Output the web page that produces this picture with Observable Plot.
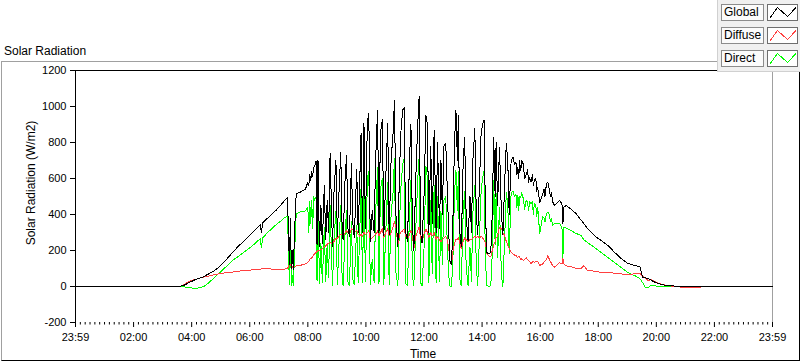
<!DOCTYPE html>
<html>
<head>
<meta charset="utf-8">
<script src="https://cdn.jsdelivr.net/npm/d3@7"></script>
<script src="https://cdn.jsdelivr.net/npm/@observablehq/plot@0.6"></script>
<style>
  html, body { margin: 0; padding: 0; background: #fff; }
  #wrap { position: relative; width: 800px; height: 361px; overflow: hidden;
          font-family: "Liberation Sans", Arial, sans-serif; color: #000; }
  #frame { position: absolute; left: 1px; top: 61px; width: 799px; height: 300px; box-sizing: border-box;
           border-left: 1px solid #a0a0a0; border-top: 1px solid #a0a0a0;
           border-right: 1px solid #000; border-bottom: 1px solid #000; }
  #title { position: absolute; left: 4px; top: 44px; font-size: 12px; line-height: 14px; white-space: nowrap; }
  #ylabel { position: absolute; left: 31px; top: 183px; font-size: 12px; line-height: 14px; white-space: nowrap;
            transform: translate(-50%, -50%) rotate(-90deg); }
  #xlabel { position: absolute; left: 423px; top: 347px; font-size: 12px; line-height: 14px; white-space: nowrap;
            transform: translateX(-50%); }
  #chart { position: absolute; left: 0; top: 0; }
  #legend { position: absolute; left: 717px; top: 0; width: 83px; height: 72px; box-sizing: border-box;
            background: #f0f0f0; border-left: 1px solid #d0d0d0; border-bottom: 1px solid #d0d0d0; z-index: 5; }
  .lname { position: absolute; left: 3px; width: 43px; height: 17px; box-sizing: border-box;
           border: 1px solid #8c8c8c; background: #fbfbfb; font-size: 12px; line-height: 15px; padding-left: 2px; }
  .licon { position: absolute; left: 49px; width: 31px; height: 17px; box-sizing: border-box;
           border: 1px solid #6e6e6e; background: #fff; }
  .licon svg { position: absolute; left: 0; top: 0; }
</style>
</head>
<body>
<div id="wrap">
  <div id="frame"></div>
  <div id="title">Solar Radiation</div>
  <div id="chart"></div>
  <div id="ylabel">Solar Radiation (W/m2)</div>
  <div id="xlabel">Time</div>
  <div id="legend"></div>
</div>
<script>
// ---- data ----
const time = [
  // night / morning
  "00:00","03:35","03:45","03:55","04:05","04:15","04:25","04:35","04:45","04:55","05:05","05:15","05:25","05:35","05:45","05:55","06:05","06:15","06:22","06:24","06:27","06:35","06:45","06:55","07:05","07:12","07:18",
  // first clouds
  "07:20","07:22","07:24","07:26","07:28","07:30","07:33","07:36","07:45","07:55","08:00","08:02","08:04","08:06","08:08","08:10","08:12",
  // 08:14 - 09:47
  "08:14","08:17","08:19","08:21","08:24","08:27","08:30","08:34","08:37","08:40","08:43","08:46","08:49","08:51","08:54","08:58","09:01","09:04","09:08","09:11","09:13","09:17","09:20","09:23","09:26","09:30","09:33","09:36","09:41","09:44","09:47",
  // 09:50 - 12:32
  "09:50","09:53","09:56","09:59","10:03","10:06","10:09","10:13","10:17","10:20","10:24","10:27","10:30","10:34","10:37","10:41","10:45","10:48","10:52","10:56","10:59","11:02","11:06","11:09","11:12","11:16","11:19","11:22","11:26","11:30","11:33","11:36","11:39","11:43","11:47","11:50","11:53","11:56","12:00","12:04","12:07","12:10","12:14","12:17","12:21","12:25","12:28","12:32",
  // 12:35 - 15:07
  "12:35","12:38","12:41","12:45","12:48","12:51","12:54","12:57","13:00","13:03","13:06","13:09","13:11","13:14","13:17","13:21","13:24","13:27","13:31","13:35","13:38","13:41","13:45","13:48","13:51","13:55","13:58","14:01","14:04","14:07","14:10","14:14","14:18","14:21","14:24","14:27","14:29","14:32","14:36","14:40","14:43","14:47","14:50","14:53","14:56","15:00","15:04","15:07",
  // afternoon / evening
  "15:10","15:12","15:14","15:16","15:17","15:20","15:22","15:25","15:28","15:31","15:34","15:36","15:38","15:41","15:44","15:46","15:48","15:51","15:53","15:55","15:59","16:05","16:08","16:10","16:13","16:16","16:19","16:21","16:23","16:26","16:29","16:40",
  "16:45","16:47","16:49","16:54","17:04","17:14","17:25","17:30","17:38","17:52","18:06","18:20","18:34","18:47","19:01","19:15","19:26","19:32","19:37","19:43","19:49","19:56","20:10","20:24","20:52","21:30","21:40","24:00"
];

const globalRad = [
  0,0,8,22,35,45,55,70,85,105,130,160,190,220,245,272,298,325,345,300,355,375,400,425,455,478,495,
  300,120,380,100,200,95,330,515,525,540,580,560,620,590,640,610,660,
  670,695,230,700,220,450,240,560,260,480,300,740,420,220,520,700,280,500,745,300,260,600,730,320,280,685,350,270,650,300,560,
  850,300,905,320,920,960,250,420,300,700,978,300,850,930,280,600,906,290,700,850,1033,400,220,600,850,980,994,300,250,700,900,350,200,600,900,1056,300,240,500,950,900,300,780,350,870,300,800,320,
  700,400,780,794,550,300,130,120,400,800,978,700,950,300,220,700,830,400,255,500,300,700,878,400,290,600,850,900,922,400,190,180,190,400,828,500,800,450,774,400,290,600,794,700,400,700,720,680,
  690,620,661,600,700,644,700,680,600,620,650,580,606,580,620,560,590,600,530,550,467,510,540,500,572,578,540,500,520,470,450,478,
  460,350,440,450,430,405,367,350,322,283,255,228,189,156,128,117,110,50,48,44,35,25,11,5,0,0,0,0
];

const diffuseRad = [
  0,0,12,28,38,45,52,58,65,70,74,78,80,84,88,90,92,95,97,98,98,100,97,93,92,96,102,
  110,125,120,115,110,105,112,115,118,125,135,140,150,155,160,165,175,
  180,190,195,200,200,205,210,220,225,235,240,245,240,235,250,270,265,280,290,285,280,300,310,300,290,320,315,300,310,290,280,
  290,280,300,290,300,310,260,270,280,290,310,280,300,320,270,300,320,280,300,330,360,330,230,280,300,310,320,280,260,290,310,290,210,280,310,330,270,250,290,320,300,270,300,280,300,260,280,260,
  250,260,270,280,260,220,130,125,200,240,260,260,270,240,210,250,270,260,250,260,260,270,280,270,280,270,280,270,260,240,180,170,165,200,230,250,270,280,330,320,300,280,250,230,210,190,180,175,
  172,165,161,170,165,150,155,144,150,160,150,145,140,128,135,140,135,138,140,140,117,125,135,140,150,172,150,140,130,115,106,133,
  125,156,125,115,110,100,100,117,89,85,78,78,74,70,67,70,72,55,50,33,38,30,12,5,-4,-4,0,0
];

const directRad = [
  0,0,-2,-6,-10,-8,0,20,45,70,95,120,145,165,185,205,225,250,265,215,270,295,320,345,365,382,390,
  200,10,260,5,60,5,210,405,415,420,440,300,470,350,480,320,500,
  480,500,30,490,15,240,20,330,25,240,50,450,170,5,260,420,10,210,450,20,5,300,420,25,5,360,40,10,340,20,280,
  550,20,600,25,600,640,10,150,20,400,660,15,540,600,10,300,580,10,400,520,710,80,5,320,540,680,711,15,5,400,590,60,5,320,590,720,20,5,210,670,600,20,480,70,560,20,500,30,
  420,120,480,500,250,60,0,0,180,520,644,420,640,40,5,420,530,120,5,220,30,410,560,110,5,310,530,600,644,130,5,0,5,180,589,230,520,160,440,60,0,300,520,460,180,522,530,500,
  510,440,505,420,500,495,520,490,430,478,470,420,470,461,470,400,461,450,390,440,294,390,380,360,405,411,400,360,378,340,350,350,
  330,161,328,325,311,295,283,260,244,217,189,161,133,106,78,61,44,20,-5,-5,5,3,2,0,0,0,0,0
];

const seriesNames = ["Global", "Diffuse", "Direct"];
const seriesColors = ["#000000", "#ff4040", "#00ff00"];

const yTicks = [-200, 0, 200, 400, 600, 800, 1000, 1200];
const xTickHours = [0, 2, 4, 6, 8, 10, 12, 14, 16, 18, 20, 22, 24];
const xTickLabels = ["23:59","02:00","04:00","06:00","08:00","10:00","12:00","14:00","16:00","18:00","20:00","22:00","23:59"];

// ---- build ----
const toHours = s => { const [h, m] = s.split(":").map(Number); return h + m / 60; };
const hours = time.map(toHours);
const valuesBySeries = [globalRad, diffuseRad, directRad];
const tables = valuesBySeries.map((vals, k) =>
  hours.map((t, i) => ({ t, v: vals[i], s: seriesNames[k] })));

const minorTicks = d3.range(0, 24 * 6 + 1).filter(i => i % 12 !== 0).map(i => i / 6);
const labelOf = new Map(xTickHours.map((h, i) => [h, xTickLabels[i]]));

const lineOpts = k => ({ x: "t", y: "v", stroke: seriesColors[k], strokeWidth: 1, shapeRendering: "crispEdges" });

const chart = Plot.plot({
  width: 800,
  height: 361,
  marginLeft: 75,
  marginRight: 28,
  marginTop: 70,
  marginBottom: 39,
  x: { domain: [0, 24] },
  y: { domain: [-200, 1200] },
  style: { fontFamily: "'Liberation Sans', Arial, sans-serif", fontSize: "11px", color: "#000", background: "transparent" },
  marks: [
    Plot.ruleY([1200], { stroke: "#000" }),
    Plot.ruleX([24], { stroke: "#a0a0a0" }),
    Plot.line(tables[2], lineOpts(2)),
    Plot.line(tables[1], lineOpts(1)),
    Plot.line(tables[0], lineOpts(0)),
    Plot.ruleX([0], { stroke: "#000" }),
    Plot.axisY({ ticks: yTicks, tickSize: 5, tickPadding: 4, tickFormat: d => String(d), label: null }),
    Plot.axisX({ ticks: xTickHours, tickSize: 5, tickPadding: 6, tickFormat: h => labelOf.get(h), label: null }),
    Plot.axisX({ ticks: minorTicks, tickSize: 2.5, tickFormat: () => "", label: null })
  ]
});
document.getElementById("chart").appendChild(chart);

// ---- legend (HTML, outside the plot svg) ----
const legend = document.getElementById("legend");
seriesNames.forEach((name, k) => {
  const top = 4 + k * 23;
  const nm = document.createElement("div");
  nm.className = "lname";
  nm.style.top = top + "px";
  nm.textContent = name;
  legend.appendChild(nm);
  const ic = document.createElement("div");
  ic.className = "licon";
  ic.style.top = top + "px";
  ic.innerHTML = `<svg width="29" height="15"><polyline points="1.5,13.5 9.5,2.5 19.5,11.5 28,2.5" fill="none" stroke="${seriesColors[k]}" stroke-width="1" shape-rendering="crispEdges"/></svg>`;
  legend.appendChild(ic);
});
</script>
</body>
</html>
